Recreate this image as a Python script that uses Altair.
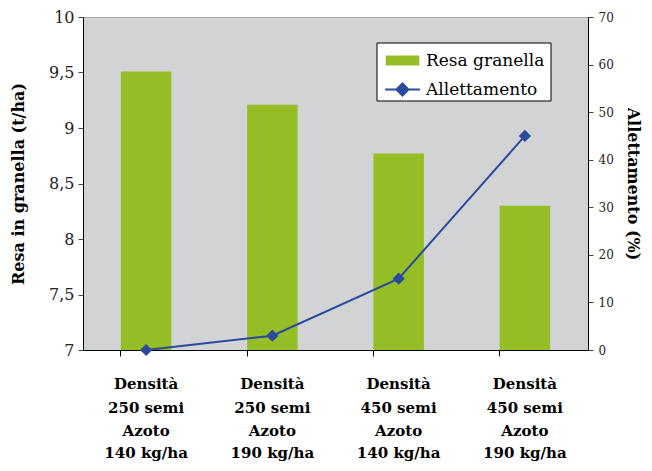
import altair as alt
import pandas as pd

densita = ["Densità", "Densità", "Densità", "Densità"]
semi = ["250 semi", "250 semi", "450 semi", "450 semi"]
azoto_lbl = ["Azoto", "Azoto", "Azoto", "Azoto"]
azoto = ["140 kg/ha", "190 kg/ha", "140 kg/ha", "190 kg/ha"]
resa = [9.51, 9.21, 8.77, 8.30]
allettamento = [0, 3, 15, 45]
series = ["Resa granella", "Allettamento"]
resa_ticks = [7, 7.5, 8, 8.5, 9, 9.5, 10]
all_ticks = [0, 10, 20, 30, 40, 50, 60, 70]

cats = [f"{d}|{s}|{a}|{z}" for d, s, a, z in zip(densita, semi, azoto_lbl, azoto)]
df = pd.DataFrame({"cat": cats, "resa": resa, "all": allettamento})
df_bar = df.assign(series=series[0])
df_line = df.assign(series=series[1])

FONT = "DejaVu Serif"
GREEN = "#95BD26"
BLUE = "#2C4A9C"


def make_legend(y, shape):
    return alt.Legend(
        title=None,
        orient="none",
        legendX=299.5,
        legendY=y,
        padding=0,
        labelFont=FONT,
        labelFontSize=17,
        labelColor="black",
        symbolSize=144,
        symbolOffset=11.5,
        labelOffset=15,
        labelLimit=300,
        symbolType=shape,
        symbolStrokeWidth=2,
        symbolOpacity=1,
    )


leg_bar = make_legend(35, "M-2.8,-0.85H2.8V0.85H-2.8Z")
leg_line = make_legend(64, "M-2.9,0H2.9M0,-1L1,0L0,1L-1,0Z")

x_scale = alt.Scale(paddingInner=0.6, paddingOuter=0.3)

x_axis_top = alt.Axis(
    title=None,
    orient="bottom",
    labelExpr="slice(split(datum.label, '|'), 0, 2)",
    labelAngle=0,
    labelFont=FONT,
    labelFontSize=15,
    labelFontWeight="bold",
    labelColor="black",
    labelLineHeight=24,
    labelPadding=20,
    labelBaseline="top",
    tickSize=6,
    tickColor="black",
    domainColor="black",
    bandPosition=0,
)

x_axis_bottom = alt.Axis(
    title=None,
    orient="bottom",
    labelExpr="slice(split(datum.label, '|'), 2, 4)",
    labelAngle=0,
    labelFont=FONT,
    labelFontSize=15,
    labelFontWeight="bold",
    labelColor="black",
    labelLineHeight=22,
    labelPadding=73,
    labelBaseline="top",
    ticks=False,
    tickSize=0,
    domain=False,
    grid=False,
)

bars = alt.Chart(df_bar).mark_bar(color=GREEN).encode(
    x=alt.X("cat:N", sort=None, scale=x_scale, axis=x_axis_top),
    y=alt.Y(
        "resa:Q",
        scale=alt.Scale(domain=[7, 10], zero=False, nice=False),
        axis=alt.Axis(
            title="Resa in granella (t/ha)",
            titleFont=FONT,
            titleFontSize=16,
            titleFontWeight="bold",
            titleColor="black",
            titlePadding=22,
            values=resa_ticks,
            format="~g",
            labelExpr="replace(datum.label, '.', ',')",
            labelFont=FONT,
            labelFontSize=16,
            labelColor="#222222",
            labelPadding=4,
            tickSize=5,
            tickColor="#444444",
            domainColor="black",
            grid=False,
        ),
    ),
    y2=alt.Y2Datum(7),
    color=alt.Color("series:N", scale=alt.Scale(domain=[series[0]], range=[GREEN]), legend=leg_bar),
)

line = alt.Chart(df_line).mark_line(
    color=BLUE, strokeWidth=2,
    point=alt.OverlayMarkDef(shape="diamond", size=150, filled=True, color=BLUE, opacity=1),
).encode(
    x=alt.X("cat:N", sort=None, scale=x_scale, axis=x_axis_bottom),
    y=alt.Y(
        "all:Q",
        scale=alt.Scale(domain=[0, 70], nice=False),
        axis=alt.Axis(
            orient="right",
            title="Allettamento (%)",
            titleFont=FONT,
            titleFontSize=16,
            titleFontWeight="bold",
            titleColor="black",
            titlePadding=11,
            values=all_ticks,
            labelFont=FONT,
            labelFontSize=12,
            labelColor="#222222",
            labelPadding=5,
            tickSize=5,
            tickColor="#444444",
            domainColor="black",
            grid=False,
        ),
    ),
    color=alt.Color("series:N", scale=alt.Scale(domain=[series[1]], range=[BLUE]), legend=leg_line),
)

box = alt.Chart(pd.DataFrame({"k": [0]})).mark_rect(
    fill="white", stroke="black", strokeWidth=1
).encode(
    x=alt.value(294), x2=alt.value(468), y=alt.value(26), y2=alt.value(84)
)

chart = (
    alt.layer(bars, box, line)
    .resolve_scale(y="independent", color="independent")
    .resolve_axis(x="independent")
    .properties(
        width=505,
        height=333,
        autosize=alt.AutoSizeParams(type="none"),
        padding={"left": 75, "top": 9, "right": 56, "bottom": 112},
        background="white",
    )
    .configure_view(fill="#D2D3D5", stroke="#A8A8A8", strokeWidth=1)
)

chart.save("out.html", embed_options={"renderer": "svg", "actions": False})
